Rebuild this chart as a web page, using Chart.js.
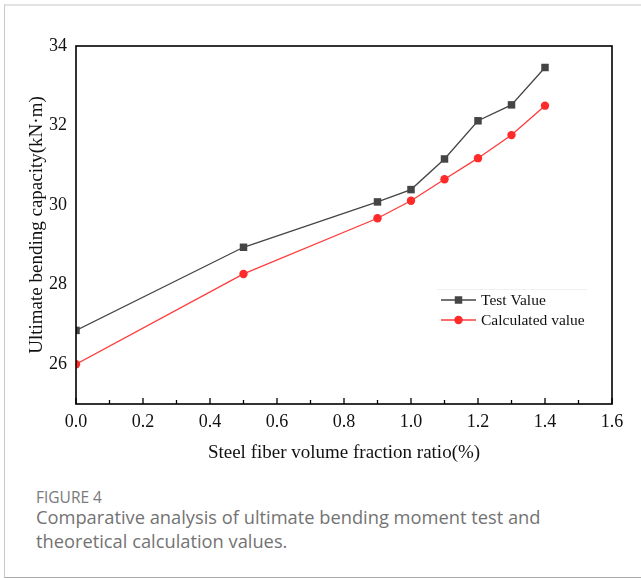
<!DOCTYPE html>
<html>
<head>
<meta charset="utf-8">
<script src="https://cdn.jsdelivr.net/npm/chart.js@4.4.1/dist/chart.umd.min.js"></script>
<style>
  body { margin: 0; background: #fff; }
  #wrap { position: relative; width: 641px; height: 578px; overflow: hidden; }
  #frame {
    position: absolute; left: 4px; top: 4px; width: 650px; height: 571px;
    border-top: 2px solid #e3e3e3; border-left: 1px solid #c8c8c8; border-bottom: 2px solid #a8a8a8;
  }
  #chart { position: absolute; left: 0; top: 0; }
  .cap { position: absolute; left: 36px; font-family: "Open Sans", sans-serif; color: #737373; white-space: nowrap; }
  #figno { top: 486px; font-size: 15.5px; color: #7a7a7a; }
  #cap1 { top: 504px; font-size: 18.3px; }
  #cap2 { top: 528px; font-size: 18.3px; }
</style>
</head>
<body>
<div id="wrap">
  <div id="frame"></div>
  <canvas id="chart" width="641" height="470"></canvas>
  <div class="cap" id="figno">FIGURE 4</div>
  <div class="cap" id="cap1">Comparative analysis of ultimate bending moment test and</div>
  <div class="cap" id="cap2">theoretical calculation values.</div>
</div>
<script>
// steel fiber volume fraction (%)
const fiberRatio = [0.0, 0.5, 0.9, 1.0, 1.1, 1.2, 1.3, 1.4];
// ultimate bending capacity (kN·m)
const testValue = [26.85, 28.94, 30.08, 30.39, 31.16, 32.12, 32.52, 33.46];
const calcValue = [26.0, 28.27, 29.67, 30.11, 30.65, 31.18, 31.76, 32.5];
const yTicks = [26, 28, 30, 32, 34];
const xMinorTicks = [0.1, 0.3, 0.5, 0.7, 0.9, 1.1, 1.3, 1.5];

const serif = '"Liberation Serif", "Times New Roman", serif';

const toPoints = (xs, ys) => xs.map((x, i) => ({ x: x, y: ys[i] }));

// box around plot area + inward x ticks + legend inside plot
const framePlugin = {
  id: 'frame',
  afterDatasetsDraw(chart) {
    const { ctx, chartArea: a, scales } = chart;
    ctx.save();
    ctx.strokeStyle = '#000';
    ctx.lineWidth = 1.6;
    ctx.strokeRect(a.left, a.top, a.right - a.left, a.bottom - a.top);

    ctx.lineWidth = 1.3;
    ctx.beginPath();
    scales.x.ticks.forEach(t => {
      const px = scales.x.getPixelForValue(t.value);
      ctx.moveTo(px, a.bottom);
      ctx.lineTo(px, a.bottom - 6);
    });
    xMinorTicks.forEach(v => {
      const px = scales.x.getPixelForValue(v);
      ctx.moveTo(px, a.bottom);
      ctx.lineTo(px, a.bottom - 4);
    });
    ctx.stroke();

    // legend
    const lx = 441, ly = 300, row = 20;
    ctx.strokeStyle = '#f0f0f0';
    ctx.lineWidth = 1;
    ctx.beginPath();
    ctx.moveTo(437, 289.5);
    ctx.lineTo(587, 289.5);
    ctx.stroke();
    ctx.font = '15.5px ' + serif;
    ctx.textBaseline = 'middle';
    chart.data.datasets.forEach((ds, i) => {
      const y = ly + i * row;
      ctx.strokeStyle = ds.borderColor;
      ctx.lineWidth = ds.borderWidth;
      ctx.beginPath();
      ctx.moveTo(lx, y);
      ctx.lineTo(lx + 35, y);
      ctx.stroke();
      ctx.fillStyle = ds.pointBackgroundColor;
      Chart.helpers.drawPoint(ctx, { pointStyle: ds.pointStyle, radius: ds.pointRadius, borderWidth: 0 }, lx + 17.5, y);
      ctx.fillStyle = '#111';
      ctx.fillText(ds.label, lx + 40, y + 1);
    });
    ctx.restore();
  }
};

new Chart(document.getElementById('chart'), {
  type: 'line',
  data: {
    datasets: [
      {
        label: 'Test Value',
        data: toPoints(fiberRatio, testValue),
        borderColor: '#454545',
        backgroundColor: '#454545',
        pointBackgroundColor: '#454545',
        pointBorderWidth: 0,
        pointStyle: 'rect',
        pointRadius: 5.3,
        borderWidth: 1.3,
        clip: 0
      },
      {
        label: 'Calculated value',
        data: toPoints(fiberRatio, calcValue),
        borderColor: '#ff3b3b',
        backgroundColor: '#ff2a2a',
        pointBackgroundColor: '#ff2a2a',
        pointBorderWidth: 0,
        pointStyle: 'circle',
        pointRadius: 4.2,
        borderWidth: 1.3,
        clip: 0
      }
    ]
  },
  options: {
    responsive: false,
    animation: false,
    layout: { padding: { left: 0, top: 46, right: 29, bottom: 0 } },
    plugins: {
      legend: { display: false },
      tooltip: { enabled: false }
    },
    scales: {
      x: {
        type: 'linear',
        min: 0,
        max: 1.6,
        grid: { display: false, drawTicks: false },
        border: { display: false },
        ticks: {
          stepSize: 0.2,
          padding: 7,
          color: '#111',
          font: { family: serif, size: 18 },
          callback: v => v.toFixed(1)
        },
        title: {
          display: true,
          text: 'Steel fiber volume fraction ratio(%)',
          color: '#111',
          font: { family: serif, size: 19 },
          padding: { top: 0, bottom: 6 }
        },
        afterFit(scale) { scale.height = 66; }
      },
      y: {
        min: 25,
        max: 34,
        grid: { display: false, drawTicks: false },
        border: { display: false },
        afterBuildTicks(scale) { scale.ticks = yTicks.map(v => ({ value: v })); },
        ticks: {
          padding: 9,
          color: '#111',
          font: { family: serif, size: 18 }
        },
        title: {
          display: true,
          text: 'Ultimate bending capacity(kN·m)',
          color: '#111',
          font: { family: serif, size: 19 },
          padding: { top: 26, bottom: 0 }
        },
        afterFit(scale) { scale.width = 76; }
      }
    }
  },
  plugins: [framePlugin]
});
</script>
</body>
</html>
